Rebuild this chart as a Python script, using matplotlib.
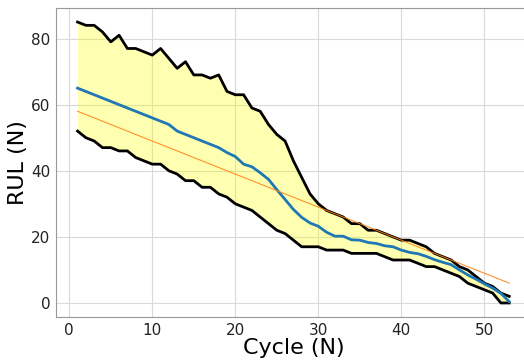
import numpy as np
import matplotlib
matplotlib.use("Agg")
import matplotlib.pyplot as plt

# Cycle index
cycles = list(range(1, 54))

# Upper and lower bounds of the RUL band
rul_upper = [85, 84, 84, 82, 79, 81, 77, 77, 76, 75, 77, 74, 71, 73, 69, 69, 68, 69,
             64, 63, 63, 59, 58, 54, 51, 49, 43, 38, 33, 30, 28, 27, 26, 24, 24, 22,
             22, 21, 20, 19, 19, 18, 17, 15, 14, 13, 11, 10, 8, 6, 5, 3, 2]
rul_lower = [52, 50, 49, 47, 47, 46, 46, 44, 43, 42, 42, 40, 39, 37, 37, 35, 35, 33,
             32, 30, 29, 28, 26, 24, 22, 21, 19, 17, 17, 17, 16, 16, 16, 15, 15, 15,
             15, 14, 13, 13, 13, 12, 11, 11, 10, 9, 8, 6, 5, 4, 3, 0, 0]
# Mean prediction
rul_mean = [65, 64, 63, 62, 61, 60, 59, 58, 57, 56, 55, 54, 52, 51, 50, 49, 48, 47,
            45.5, 44.3, 42, 41.2, 39.4, 37.4, 34.3, 31.3, 28.3, 25.9, 24.2, 23.2, 21.4,
            20.2, 20.2, 19.1, 19, 18.3, 18, 17.3, 17, 16, 15.3, 14.9, 14.1, 13.1, 12.3,
            11.6, 10, 8.5, 7.2, 5.8, 4.5, 2.9, 0.4]
# True RUL line end points
true_x = [1, 53]
true_y = [58, 6]

fig = plt.figure(figsize=(5.24, 3.61), dpi=100)
ax = fig.add_axes([56 / 524, 1 - 317 / 361, 474.8 / 524, 309 / 361])

ax.fill_between(cycles, rul_lower, rul_upper, color="yellow", alpha=0.3, linewidth=0)
ax.plot(cycles, rul_upper, color="black", linewidth=2)
ax.plot(cycles, rul_lower, color="black", linewidth=2)
ax.plot(cycles, rul_mean, color="#1f77b4", linewidth=2)
ax.plot(true_x, true_y, color="#ff7f0e", linewidth=0.8, alpha=0.85)

ax.set_xlim(-1.6, 55.6)
ax.set_ylim(-4.25, 89.25)
ax.set_xticks([0, 10, 20, 30, 40, 50])
ax.set_yticks([0, 20, 40, 60, 80])
ax.grid(True, color="#d9d9d9", linewidth=0.8)
ax.set_axisbelow(True)
for s in ax.spines.values():
    s.set_color("#999999")
ax.tick_params(length=0, labelsize=11, pad=4, colors="#222222")
ax.set_xlabel("Cycle (N)", fontsize=16, labelpad=0)
ax.set_ylabel("RUL (N)", fontsize=16, labelpad=2)

fig.savefig("out.png", dpi=100)
